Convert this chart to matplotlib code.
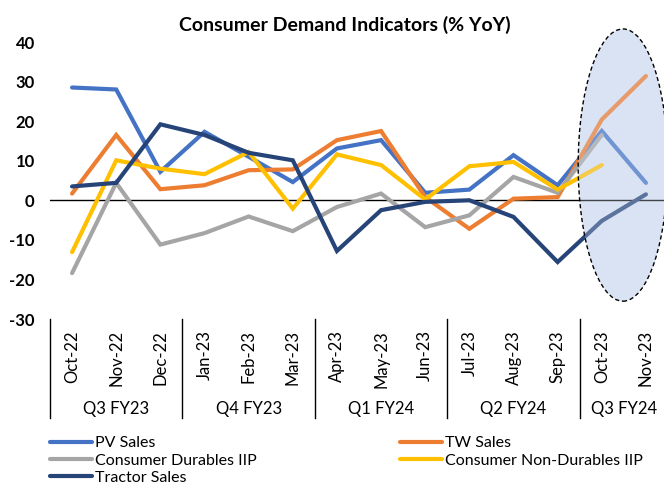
import matplotlib

matplotlib.use("Agg")
import matplotlib.pyplot as plt
from matplotlib.lines import Line2D
from matplotlib.patches import Ellipse
import numpy as np

plt.rcParams["font.family"] = ["Lato", "DejaVu Sans"]
plt.rcParams["axes.unicode_minus"] = False

months = ["Oct-22", "Nov-22", "Dec-22", "Jan-23", "Feb-23", "Mar-23", "Apr-23",
          "May-23", "Jun-23", "Jul-23", "Aug-23", "Sep-23", "Oct-23", "Nov-23"]
quarters = ["Q3 FY23", "Q4 FY23", "Q1 FY24", "Q2 FY24", "Q3 FY24"]
quarter_sizes = [3, 3, 3, 3, 2]

pv_sales = [28.5, 28.0, 7.2, 17.3, 11.0, 4.6, 13.1, 15.2, 1.9, 2.7, 11.4, 3.8, 17.5, 4.4]
tw_sales = [1.7, 16.5, 2.8, 3.8, 7.6, 7.8, 15.2, 17.5, 0.8, -7.2, 0.4, 0.8, 20.4, 31.4]
durables_iip = [-18.4, 4.4, -11.2, -8.3, -4.1, -7.8, -1.7, 1.7, -6.8, -3.8, 5.9, 1.9, 16.5, None]
non_durables_iip = [-13.1, 10.1, 8.0, 6.6, 12.2, -2.1, 11.6, 8.9, 0.2, 8.6, 9.7, 2.7, 8.9, None]
tractor_sales = [3.5, 4.4, 19.2, 16.5, 12.0, 10.1, -12.8, -2.5, -0.4, 0.0, -4.2, -15.6, -5.2, 1.5]

series = [
    ("PV Sales", pv_sales, "#4472c4"),
    ("TW Sales", tw_sales, "#ed7d31"),
    ("Consumer Durables IIP", durables_iip, "#a5a5a5"),
    ("Consumer Non-Durables IIP", non_durables_iip, "#ffc000"),
    ("Tractor Sales", tractor_sales, "#264478"),
]

W, H = 664, 486
fig = plt.figure(figsize=(W / 100, H / 100), dpi=100)
ax_left, ax_right, ax_top, ax_bottom = 50, 668, 42, 319
ax_h = ax_bottom - ax_top
ax = fig.add_axes([ax_left / W, 1 - ax_bottom / H, (ax_right - ax_left) / W, ax_h / H])

x = np.arange(len(months))
ax.set_xlim(-0.5, len(months) - 0.5)
ax.set_ylim(-30, 40)

# highlight ellipse behind the lines
ell_kw = dict(xy=(12.48, 8.9), width=2.03, height=68.8)
ax.add_patch(Ellipse(**ell_kw, facecolor="#dae3f3", edgecolor="none", zorder=0, clip_on=False))

ax.axhline(0, color="black", lw=1.0, zorder=1)

handles = {}
for name, vals, color in series:
    y = np.array([np.nan if v is None else v for v in vals], dtype=float)
    ax.plot(x, y, color=color, lw=3.0, solid_capstyle="round",
            solid_joinstyle="miter", zorder=2)
    handles[name] = Line2D([], [], color=color, lw=3.0, solid_capstyle="round")

# translucent overlay + dashed outline on top of the lines
ax.add_patch(Ellipse(**ell_kw, facecolor="#dae3f3", alpha=0.3, edgecolor="none",
                     zorder=3, clip_on=False))
ax.add_patch(Ellipse(**ell_kw, facecolor="none", edgecolor="black", lw=1.0,
                     linestyle=(0, (3, 2)), zorder=4, clip_on=False))

for s in ax.spines.values():
    s.set_visible(False)

ax.set_yticks(range(-30, 41, 10))
ax.tick_params(axis="y", length=0, pad=11, labelsize=12)
for lbl in ax.get_yticklabels():
    lbl.set_fontweight("bold")

ax.set_xticks(x)
ax.set_xticklabels(months, rotation=90, fontsize=12)
ax.tick_params(axis="x", length=0, pad=8)

# quarter separators and labels
trans = ax.get_xaxis_transform()
sep_bottom = -(418 - ax_bottom) / ax_h
label_y = -(409 - ax_bottom) / ax_h
start = 0
for q, n in zip(quarters, quarter_sizes):
    ax.plot([start - 0.5, start - 0.5], [0, sep_bottom], color="black", lw=1.0,
            transform=trans, clip_on=False)
    ax.text(start + (n - 1) / 2, label_y, q, transform=trans, ha="center", va="center",
            fontsize=12)
    start += n

fig.text(345 / W, 1 - 25 / H, "Consumer Demand Indicators (% YoY)",
         ha="center", va="center", fontsize=14, fontweight="bold")

leg_kw = dict(frameon=False, fontsize=11.5, handlelength=2.6, handletextpad=0.2,
              labelspacing=0.2, borderpad=0, borderaxespad=0, loc="upper left")
fig.legend([handles[n] for n in ["PV Sales", "Consumer Durables IIP", "Tractor Sales"]],
           ["PV Sales", "Consumer Durables IIP", "Tractor Sales"],
           bbox_to_anchor=(50 / W, 1 - 436 / H), **leg_kw)
fig.legend([handles[n] for n in ["TW Sales", "Consumer Non-Durables IIP"]],
           ["TW Sales", "Consumer Non-Durables IIP"],
           bbox_to_anchor=(400 / W, 1 - 436 / H), **leg_kw)

fig.savefig("out.png", dpi=100)
